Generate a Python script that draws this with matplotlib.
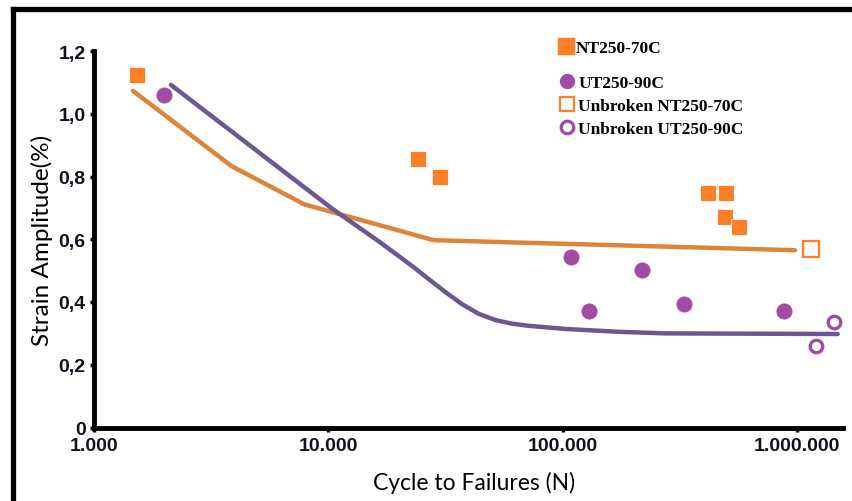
import matplotlib
matplotlib.use("Agg")
import matplotlib.pyplot as plt
from matplotlib.lines import Line2D
from matplotlib.ticker import FixedLocator, FixedFormatter

# Fatigue test results
nt_cycles = [1524, 24200, 30000, 418000, 499000, 494000, 566000]
nt_strain = [1.124, 0.856, 0.799, 0.748, 0.748, 0.671, 0.640]

ut_cycles = [1990, 108000, 129000, 217000, 330000, 881000]
ut_strain = [1.061, 0.544, 0.372, 0.502, 0.394, 0.372]

nt_unbroken_cycles = [1148000]
nt_unbroken_strain = [0.569]

ut_unbroken_cycles = [1436000, 1205000]
ut_unbroken_strain = [0.337, 0.260]

# Trend curves
nt_fit_cycles = [1466, 3865, 7910, 28200, 980000]
nt_fit_strain = [1.073, 0.833, 0.711, 0.597, 0.565]

ut_fit_cycles = [2130, 10400, 16500, 20000, 23200, 26900, 31800, 37200, 43900,
                 51900, 60700, 71600, 103000, 173000, 274000, 1490000]
ut_fit_strain = [1.092, 0.697, 0.592, 0.546, 0.510, 0.472, 0.430, 0.393, 0.362,
                 0.342, 0.331, 0.324, 0.314, 0.305, 0.300, 0.298]

x_ticks = [1e3, 1e4, 1e5, 1e6]
x_tick_labels = ["1.000", "10.000", "100.000", "1.000.000"]
y_ticks = [0, 0.2, 0.4, 0.6, 0.8, 1.0, 1.2]
y_tick_labels = ["0", "0,2", "0,4", "0,6", "0,8", "1,0", "1,2"]

ORANGE = "#FF7F27"
ORANGE_LINE = "#DE8439"
PURPLE = "#A24BA4"
PURPLE_LINE = "#6C5693"

fig = plt.figure(figsize=(8.53, 5.02), dpi=100)
ax = fig.add_axes([94 / 853, 1 - 428.5 / 502, (843 - 94) / 853, (428.5 - 52) / 502])

ax.set_xscale("log")
ax.set_xlim(1e3, 1.57e6)
ax.set_ylim(0, 1.2)

ax.plot(nt_fit_cycles, nt_fit_strain, color=ORANGE_LINE, lw=3.2,
        solid_capstyle="round", solid_joinstyle="round", zorder=2)
ax.plot(ut_fit_cycles, ut_fit_strain, color=PURPLE_LINE, lw=3.2,
        solid_capstyle="round", solid_joinstyle="round", zorder=2)

ax.plot(nt_cycles, nt_strain, ls="none", marker="s", ms=12, mfc=ORANGE,
        mec="white", mew=0.6, zorder=3)
ax.plot(ut_cycles, ut_strain, ls="none", marker="o", ms=11, mfc=PURPLE,
        mec=PURPLE, mew=0.5, zorder=3)
ax.plot(nt_unbroken_cycles, nt_unbroken_strain, ls="none", marker="s", ms=11,
        mfc="white", mec=ORANGE, mew=1.6, zorder=3, clip_on=False)
ax.plot(ut_unbroken_cycles, ut_unbroken_strain, ls="none", marker="o", ms=9,
        mfc="white", mec=PURPLE, mew=2.4, zorder=3, clip_on=False)

# Axes styling
for side in ("top", "right"):
    ax.spines[side].set_visible(False)
for side in ("left", "bottom"):
    ax.spines[side].set_linewidth(3.5)
    ax.spines[side].set_color("black")
ax.spines["left"].set_capstyle("projecting")

ax.xaxis.set_major_locator(FixedLocator(x_ticks))
ax.xaxis.set_major_formatter(FixedFormatter(x_tick_labels))
ax.xaxis.set_minor_locator(FixedLocator([]))
ax.yaxis.set_major_locator(FixedLocator(y_ticks))
ax.yaxis.set_major_formatter(FixedFormatter(y_tick_labels))

ax.tick_params(axis="both", which="major", length=3, width=2.5, color="black",
               labelsize=14, labelcolor="#10131f")
ax.tick_params(axis="x", pad=4)
ax.tick_params(axis="y", pad=3)
for lbl in ax.get_xticklabels() + ax.get_yticklabels():
    lbl.set_fontfamily("Liberation Sans")
    lbl.set_fontweight("bold")

ax.set_xlabel("Cycle to Failures (N)", fontfamily="Lato", fontsize=16.5)
ax.xaxis.set_label_coords(0.507, -0.115)
ax.set_ylabel("Strain Amplitude(%)", fontfamily="Lato", fontsize=17.5)
ax.yaxis.set_label_coords(-0.055, 0.5)

# Legend
leg_font = {"family": "Liberation Serif", "weight": "bold", "size": 12.5}
h1 = [Line2D([], [], ls="none", marker="s", ms=12, mfc=ORANGE, mec=ORANGE)]
leg1 = ax.legend(h1, ["NT250-70C"], loc="upper left",
                 bbox_to_anchor=(560 / 853, 1 - 41 / 502), bbox_transform=fig.transFigure,
                 frameon=False, prop=leg_font, handlelength=0.7, handletextpad=0.2,
                 borderpad=0, borderaxespad=0)
ax.add_artist(leg1)
h2 = [Line2D([], [], ls="none", marker="o", ms=10, mfc=PURPLE, mec=PURPLE),
      Line2D([], [], ls="none", marker="s", ms=10.5, mfc="white", mec=ORANGE, mew=1.6),
      Line2D([], [], ls="none", marker="o", ms=9, mfc="white", mec=PURPLE, mew=2.4)]
ax.legend(h2, ["UT250-90C", "Unbroken NT250-70C", "Unbroken UT250-90C"], loc="upper left",
          bbox_to_anchor=(561 / 853, 1 - 76 / 502), bbox_transform=fig.transFigure,
          frameon=False, prop=leg_font, handlelength=0.7, handletextpad=0.3,
          labelspacing=0.4, borderpad=0, borderaxespad=0)

# Outer frame
fig.add_artist(Line2D([13 / 853, 13 / 853], [0, 1 - 10 / 502], color="black", lw=3.8,
                      transform=fig.transFigure, solid_capstyle="projecting"))
fig.add_artist(Line2D([13 / 853, 1], [1 - 10 / 502, 1 - 10 / 502], color="black", lw=3.8,
                      transform=fig.transFigure, solid_capstyle="projecting"))

fig.savefig("out.png", dpi=100, facecolor="white")
